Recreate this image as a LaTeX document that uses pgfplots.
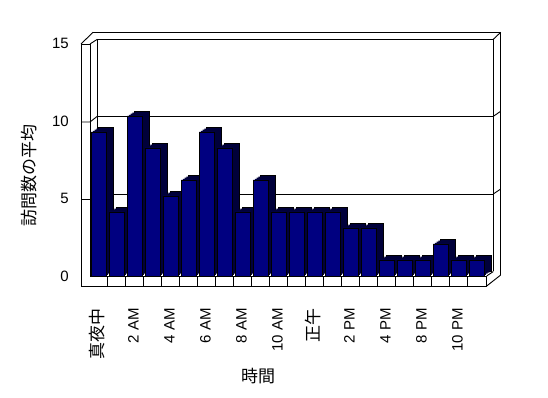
\documentclass[border=0pt]{standalone}
\usepackage{pgfplots}
\pgfplotsset{compat=1.18}
\usepackage{pgfplotstable}
\usepackage{fontspec}
\setmainfont{Liberation Sans}
\newfontfamily\jp{Noto Sans CJK JP}
\definecolor{barfront}{RGB}{0,0,128}
\definecolor{bardepth}{RGB}{0,0,58}

\pgfplotstableread{
x y
0 9
1 4
2 10
3 8
4 5
5 6
6 9
7 8
8 4
9 6
10 4
11 4
12 4
13 4
14 3
15 3
16 1
17 1
18 1
19 2
20 1
21 1
}\visits

\begin{document}
\begin{tikzpicture}
\useasboundingbox (0pt,0pt) rectangle (548pt,398pt);
\begin{scope}[x=1pt, y=1pt, line width=0.9pt, black]
  % back wall
  \draw (97.3,126.5) -- (97.3,358.7) -- (493.3,358.7) -- (493.3,126.5);
  \draw (97.3,204) -- (493.3,204);
  \draw (97.3,281.7) -- (493.3,281.7);
  \draw (93,365.7) -- (500.7,365.7) -- (500.7,123);
  \draw (493.3,358.7) -- (500.7,365.7);
  \draw (493.3,204) -- (500.7,209);
  \draw (493.3,281.7) -- (500.7,286.7);
  % left wall
  \draw (81,112) -- (81,354) -- (90,354) -- (90,122);
  \draw (81,354) -- (93,365.7);
  \draw (90,354) -- (97.3,358.7);
  \draw (81,198.5) -- (90,198.5) -- (97.3,204);
  \draw (81,276) -- (90,276) -- (97.3,281.7);
  % floor
  \draw (90,122) -- (486.7,122);
  \draw (81,112) -- (486.7,112) -- (486.7,122);
  \foreach \k in {0,...,20} \draw ({107.7+18*\k},112) -- ({107.7+18*\k},122);
  \draw (486.7,112) -- (500.7,123);
  \draw (486.7,122) -- (493.3,126.5);
\end{scope}
\begin{axis}[
  at={(97.3pt,126.5pt)}, anchor=south west,
  scale only axis, width=396pt, height=232.2pt,
  xmin=-0.456, xmax=21.544, ymin=0, ymax=14.5125,
  clip=false,
  axis line style={draw=none},
  major tick length=0pt,
  /pgf/number format/assume math mode=true,
  ybar, bar width=15pt,
  xtick={0,2,...,20},
  xticklabels={{\jp\fontsize{17}{17}\selectfont 真夜中},2 AM,4 AM,6 AM,8 AM,10 AM,{\jp\fontsize{17}{17}\selectfont 正午},2 PM,4 PM,8 PM,10 PM},
  xticklabel style={font=\fontsize{15}{15}\selectfont, inner sep=0pt, xshift=-8pt, yshift=-36.5pt, rotate=90, anchor=east},
  ytick={0,4.8375,9.675,14.5125},
  yticklabels={0,5,10,15},
  yticklabel style={font=\fontsize{15}{15}\selectfont, inner sep=0pt, xshift=-28.3pt, yshift=-4.5pt},
]
\addplot[fill=bardepth, draw=black, line width=0.8pt, bar shift=0pt] table[x=x,y=y]{\visits};
\addplot[fill=bardepth, draw=none, bar shift=-1.75pt, yshift=-1.125pt] table[x=x,y=y]{\visits};
\addplot[fill=bardepth, draw=none, bar shift=-3.5pt, yshift=-2.25pt] table[x=x,y=y]{\visits};
\addplot[fill=bardepth, draw=none, bar shift=-5.25pt, yshift=-3.375pt] table[x=x,y=y]{\visits};
\addplot[fill=barfront, draw=black, line width=0.8pt, bar shift=-7pt, yshift=-4.5pt] table[x=x,y=y]{\visits};
\end{axis}
\node[rotate=90, font=\jp\fontsize{17}{17}\selectfont] at (29pt,222pt) {訪問数の平均};
\node[font=\jp\fontsize{17}{17}\selectfont] at (258pt,22pt) {時間};
\end{tikzpicture}
\end{document}
